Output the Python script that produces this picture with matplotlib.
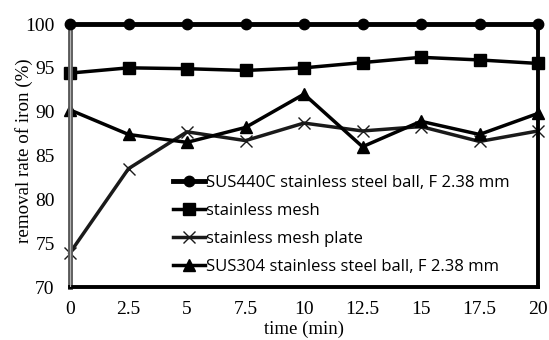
import matplotlib.pyplot as plt

time_min = [0, 2.5, 5, 7.5, 10, 12.5, 15, 17.5, 20]
sus440c_ball = [100, 100, 100, 100, 100, 100, 100, 100, 100]
stainless_mesh = [94.4, 95.0, 94.9, 94.7, 95.0, 95.6, 96.2, 95.9, 95.5]
mesh_plate = [73.9, 83.5, 87.7, 86.7, 88.7, 87.8, 88.3, 86.6, 87.8]
sus304_ball = [90.2, 87.4, 86.5, 88.2, 92.0, 86.0, 88.9, 87.4, 89.8]

labels = ['SUS440C stainless steel ball, F 2.38 mm', 'stainless mesh',
          'stainless mesh plate', 'SUS304 stainless steel ball, F 2.38 mm']

fig = plt.figure(figsize=(5.49, 3.40), dpi=100)
ax = fig.add_axes([70 / 549, (340 - 287) / 340, 468 / 549, 263 / 340])

ax.plot(time_min, sus440c_ball, color='black', lw=3.5, marker='o', ms=7.5, label=labels[0], clip_on=False, zorder=5)
ax.plot(time_min, stainless_mesh, color='black', lw=2.5, marker='s', ms=8, label=labels[1], clip_on=False)
ax.plot(time_min, mesh_plate, color='#1a1a1a', lw=2.5, marker='x', ms=9, mew=1, label=labels[2], clip_on=False)
ax.plot(time_min, sus304_ball, color='black', lw=2.5, marker='^', ms=8, label=labels[3], clip_on=False)

ax.set_xlim(0, 20)
ax.set_ylim(70, 100)
ax.set_xticks(time_min)
ax.set_xticklabels(['0', '2.5', '5', '7.5', '10', '12.5', '15', '17.5', '20'])
ax.set_yticks([70, 75, 80, 85, 90, 95, 100])

serif = 'Liberation Serif'
for t in ax.get_xticklabels() + ax.get_yticklabels():
    t.set_fontfamily(serif)
    t.set_fontsize(14)
ax.tick_params(axis='x', length=0, pad=10)
ax.tick_params(axis='y', length=0, pad=11)

ax.set_ylabel('removal rate of iron (%)', fontfamily=serif, fontsize=13.7)
ax.yaxis.set_label_coords(-0.079, 0.52)
ax.set_xlabel('time (min)', fontfamily=serif, fontsize=13.5)
ax.xaxis.set_label_coords(0.5, -0.128)

# left axis line: grey band with dark edges
ax.spines['top'].set_visible(False)
ax.spines['left'].set_color('#5a5a5a')
ax.spines['left'].set_linewidth(3.5)
ax.axvline(0, color='#b5b5b5', lw=1.6, zorder=4)
ax.spines['bottom'].set_linewidth(2.8)
ax.spines['right'].set_linewidth(2.8)

ax.legend(loc='lower left', bbox_to_anchor=(0.206, 0.022), frameon=False,
          prop={'family': 'Open Sans', 'size': 12}, handlelength=1.9,
          handletextpad=0.1, labelspacing=0.72, borderaxespad=0)

fig.savefig('out.png', dpi=100)
